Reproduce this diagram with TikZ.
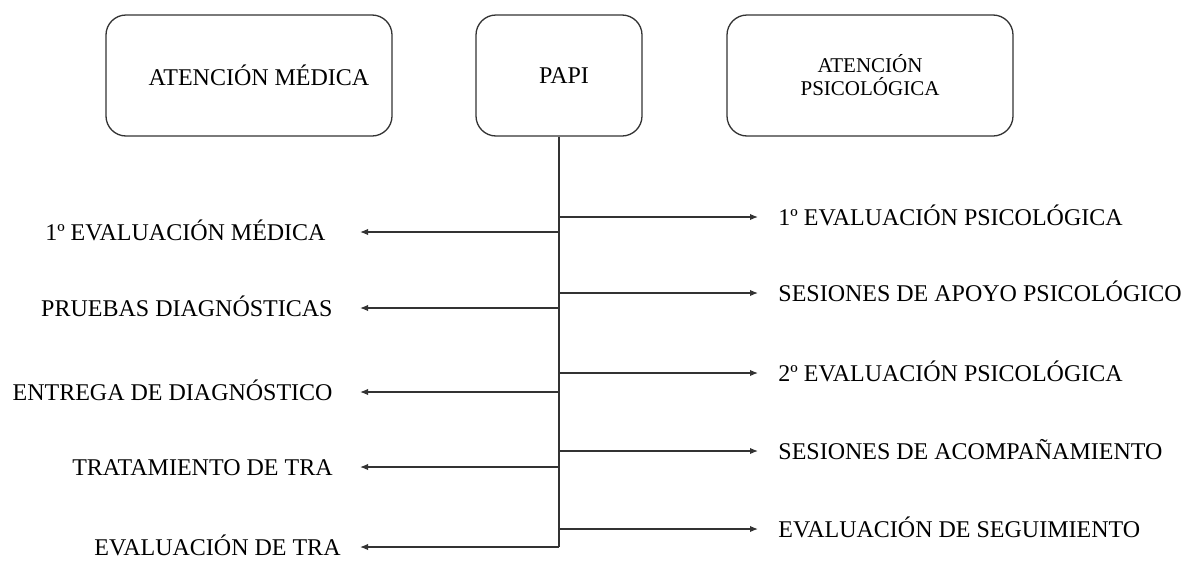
\documentclass[tikz,border=0pt]{standalone}
\usepackage{fontspec}
\setmainfont{Liberation Serif}
\usetikzlibrary{arrows.meta}
\begin{document}
\begin{tikzpicture}[x=0.5pt,y=-0.5pt,
  box/.style={draw=black!80, line width=0.65pt, rounded corners=10pt,
    minimum height=60.5pt, inner sep=0pt, align=center,
    font=\fontsize{12}{11.5}\selectfont},
  lab/.style={inner sep=0pt, font=\fontsize{12}{14}\selectfont},
  trunk/.style={draw=black!80, line width=0.65pt},
  arr/.style={draw=black!80, line width=0.65pt, -{Latex[length=4pt,width=3.2pt]}}]
\useasboundingbox (0,0) rectangle (1188,568);
% boxes
\node[box, minimum width=143pt] (med) at (249,75.5) {\hspace*{10pt}ATENCIÓN MÉDICA};
\node[box, minimum width=83pt] (papi) at (559,75.5) {\hspace*{5pt}PAPI};
\node[box, minimum width=143pt, font=\fontsize{10.5}{11.5}\selectfont] (psi) at (870,75.5) {ATENCIÓN\\PSICOLÓGICA};
% trunk
\coordinate (bot) at (559,547);
\draw[trunk] (papi.south) -- (bot);
% left labels
\node[lab, anchor=base east] (l1) at (326,240) {1º EVALUACIÓN MÉDICA};
\node[lab, anchor=base east] (l2) at (333,316) {PRUEBAS DIAGNÓSTICAS};
\node[lab, anchor=base east] (l3) at (333,400) {ENTREGA DE DIAGNÓSTICO};
\node[lab, anchor=base east] (l4) at (333,475) {TRATAMIENTO DE TRA};
\node[lab, anchor=base east] (l5) at (341,555) {EVALUACIÓN DE TRA};
% right labels
\node[lab, anchor=base west] (r1) at (778,225) {1º EVALUACIÓN PSICOLÓGICA};
\node[lab, anchor=base west] (r2) at (778,301) {SESIONES DE APOYO PSICOLÓGICO};
\node[lab, anchor=base west] (r3) at (778,381) {2º EVALUACIÓN PSICOLÓGICA};
\node[lab, anchor=base west] (r4) at (778,459) {SESIONES DE ACOMPAÑAMIENTO};
\node[lab, anchor=base west] (r5) at (778,537) {EVALUACIÓN DE SEGUIMIENTO};
% trunk junctions
\coordinate (j1) at (559,232); \coordinate (t1) at (360,232);
\coordinate (j2) at (559,308); \coordinate (t2) at (360,308);
\coordinate (j3) at (559,392); \coordinate (t3) at (360,392);
\coordinate (j4) at (559,467); \coordinate (t4) at (360,467);
\coordinate (t5) at (360,547);
\coordinate (k1) at (559,217); \coordinate (u1) at (758,217);
\coordinate (k2) at (559,293); \coordinate (u2) at (758,293);
\coordinate (k3) at (559,373); \coordinate (u3) at (758,373);
\coordinate (k4) at (559,451); \coordinate (u4) at (758,451);
\coordinate (k5) at (559,529); \coordinate (u5) at (758,529);
\draw[arr] (j1) -- (t1);
\draw[arr] (j2) -- (t2);
\draw[arr] (j3) -- (t3);
\draw[arr] (j4) -- (t4);
\draw[arr] (bot) -- (t5);
\draw[arr] (k1) -- (u1);
\draw[arr] (k2) -- (u2);
\draw[arr] (k3) -- (u3);
\draw[arr] (k4) -- (u4);
\draw[arr] (k5) -- (u5);
\end{tikzpicture}
\end{document}
